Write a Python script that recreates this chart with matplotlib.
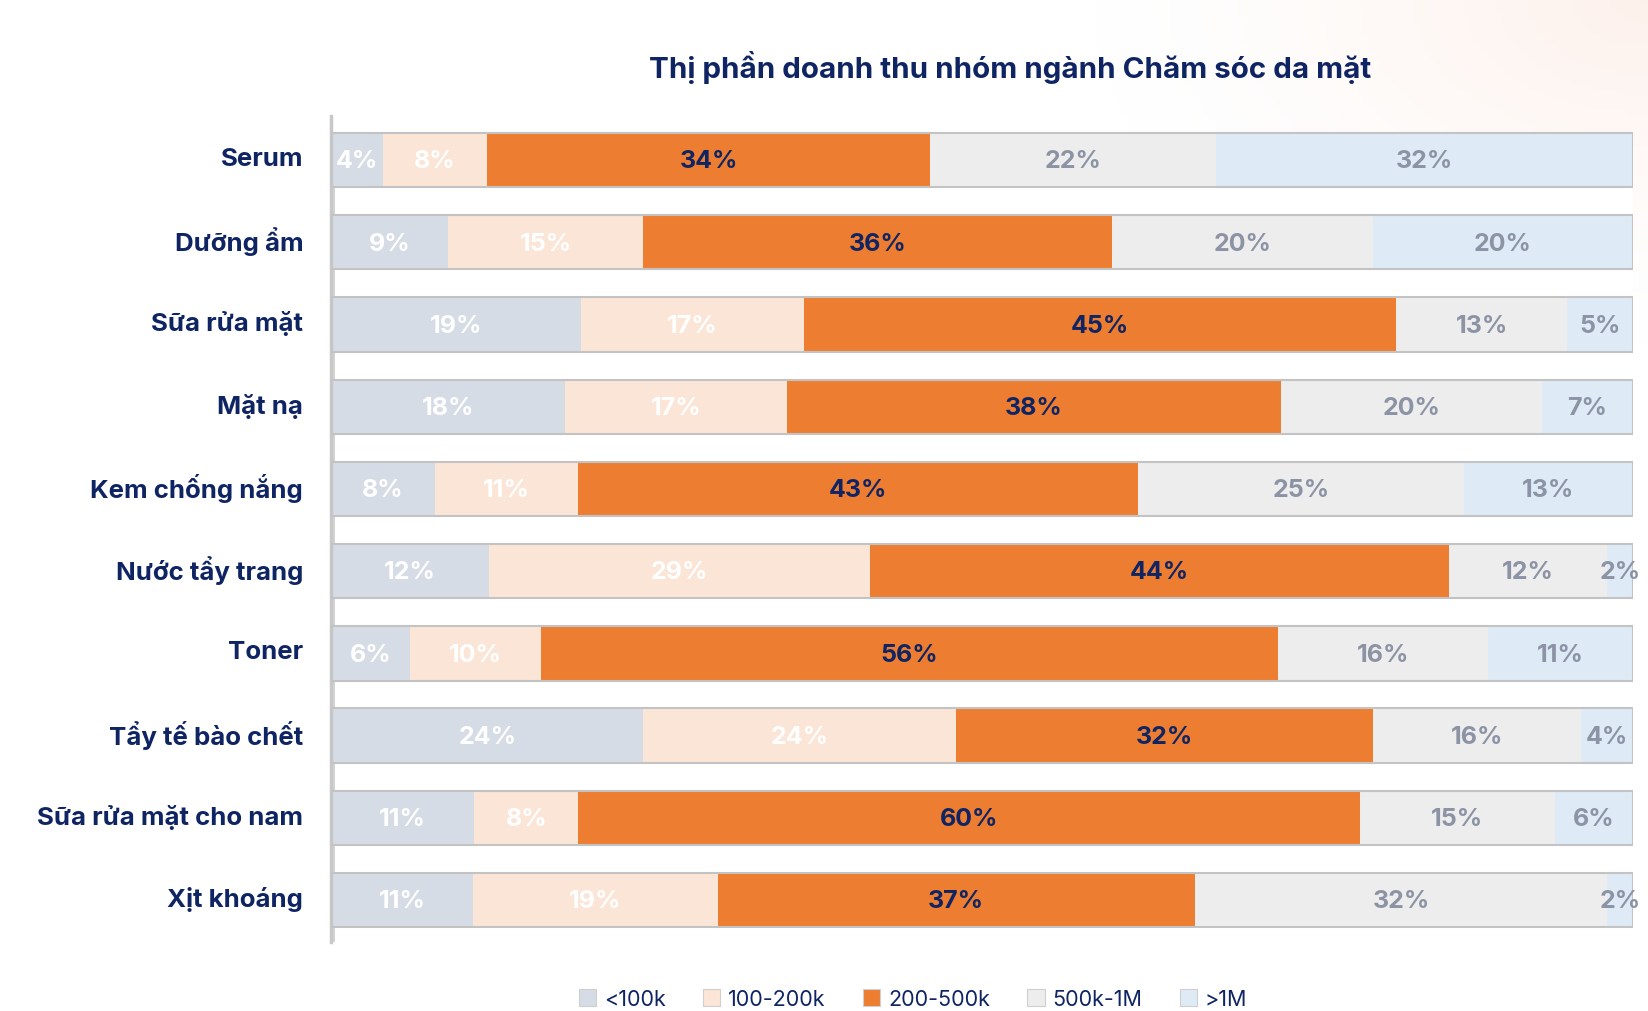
import numpy as np
import matplotlib
matplotlib.use("Agg")
import matplotlib.pyplot as plt
from matplotlib.patches import Patch, Rectangle
from matplotlib.transforms import ScaledTranslation

plt.rcParams['font.family'] = ['Inter', 'DejaVu Sans']

# ---- data -------------------------------------------------------------
categories = ["Serum", "Dưỡng ẩm", "Sữa rửa mặt", "Mặt nạ", "Kem chống nắng",
              "Nước tẩy trang", "Toner", "Tẩy tế bào chết",
              "Sữa rửa mặt cho nam", "Xịt khoáng"]
price_bands = ["<100k", "100-200k", "200-500k", "500k-1M", ">1M"]

under_100k = [4, 9, 19, 18, 8, 12, 6, 24, 11, 11]
k100_200 = [8, 15, 17, 17, 11, 29, 10, 24, 8, 19]
k200_500 = [34, 36, 45, 38, 43, 44, 56, 32, 60, 37]
k500_1m = [22, 20, 13, 20, 25, 12, 16, 16, 15, 32]
over_1m = [32, 20, 5, 7, 13, 2, 11, 4, 6, 2]

series = [under_100k, k100_200, k200_500, k500_1m, over_1m]

# ---- style ------------------------------------------------------------
NAVY = "#0f2463"
seg_colors = ["#d6dce5", "#fbe5d6", "#ed7d31", "#ededed", "#deebf7"]
label_colors = ["#ffffff", "#ffffff", NAVY, "#8b93a5", "#8b93a5"]

W, H = 1649, 1012
fig = plt.figure(figsize=(W / 100, H / 100), dpi=100)

# faint warm glow in the upper-right corner
bg = fig.add_axes([0, 0, 1, 1], zorder=-10)
gx, gy = np.meshgrid(np.linspace(0, 1, 300), np.linspace(0, 1, 200))
d = np.sqrt(((1 - gx) / 0.35) ** 2 + ((1 - gy) / 0.35) ** 2)
alpha = np.clip(1 - d, 0, 1) ** 1.5 * 0.55
rgba = np.zeros((200, 300, 4))
rgba[..., 0], rgba[..., 1], rgba[..., 2] = 0.99, 0.90, 0.86
rgba[..., 3] = alpha
bg.imshow(rgba, origin="lower", extent=[0, 1, 0, 1], aspect="auto")
bg.set_xlim(0, 1)
bg.set_ylim(0, 1)
bg.axis("off")

ax = fig.add_axes([331 / W, 1 - 943 / H, (1633 - 331) / W, (943 - 117) / H])

n = len(categories)
y = np.arange(n)
bar_h = 0.66
data = np.array(series, dtype=float)
totals = data.sum(axis=0)
shares = data / totals * 100  # 100% stacked

# white "depth" plate under each bar
for i in range(n):
    ax.barh(y[i] + 0.33, 100, left=0.25, height=bar_h, color="white",
            edgecolor="none", zorder=1)
    ax.plot([0.25, 0.25], [y[i] + bar_h / 2, y[i] + 0.33 + bar_h / 2],
            color="#cfcfcf", lw=1.3, zorder=1.5, solid_capstyle="butt")

left = np.zeros(n)
for k, (vals, sh) in enumerate(zip(series, shares)):
    ax.barh(y, sh, left=left, height=bar_h, color=seg_colors[k],
            edgecolor="none", zorder=2, label=price_bands[k])
    for i in range(n):
        ax.text(left[i] + sh[i] / 2, y[i] + 0.01, f"{vals[i]}%",
                ha="center", va="center", fontsize=18, fontweight="bold",
                color=label_colors[k], zorder=4)
    left += sh

# thin outline around each whole bar
for i in range(n):
    ax.add_patch(Rectangle((0, y[i] - bar_h / 2), 100, bar_h, fill=False,
                           edgecolor="#c3c3c3", lw=1.5, zorder=3))

ax.set_xlim(0, 100)
ax.set_ylim(n - 1 + 0.51, -0.535)
ax.set_yticks(y)
ax.set_yticklabels(categories, fontsize=18.6, fontweight="bold", color=NAVY)
ax.tick_params(axis="y", length=0, pad=20)
lift = ScaledTranslation(0, 4 / 100, fig.dpi_scale_trans)
for lbl in ax.get_yticklabels():
    lbl.set_transform(lbl.get_transform() + lift)
ax.set_xticks([])
for s in ["top", "right", "bottom"]:
    ax.spines[s].set_visible(False)
ax.spines["left"].set_color("#c8c8c8")
ax.spines["left"].set_linewidth(2.5)
ax.patch.set_alpha(0)

fig.text(1010 / W, 1 - 68 / H, "Thị phần doanh thu nhóm ngành Chăm sóc da mặt",
         ha="center", va="center", fontsize=21.3, fontweight="bold", color=NAVY)

handles = [Patch(facecolor=c, edgecolor="#cfcfcf", lw=0.8) for c in seg_colors]
leg = fig.legend(handles, price_bands, loc="center",
                 bbox_to_anchor=(913 / W, 1 - 1000 / H), ncol=5, frameon=False,
                 fontsize=15.5, handlelength=0.8, handleheight=0.8,
                 handletextpad=0.35, columnspacing=1.75)
for t in leg.get_texts():
    t.set_color(NAVY)

fig.savefig("out.png", dpi=100, facecolor="white")
